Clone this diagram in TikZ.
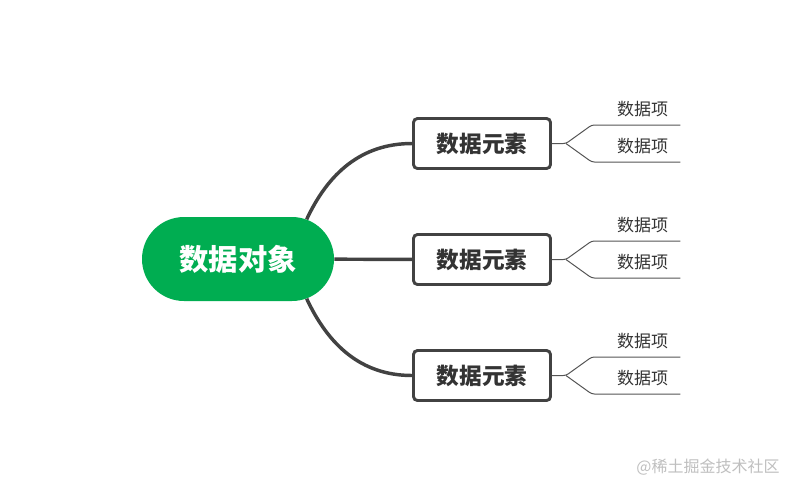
\documentclass[tikz,border=0pt]{standalone}
\usepackage{fontspec}
\newfontfamily\cjk{Noto Sans CJK SC}
\usepackage{tikz}
\usetikzlibrary{shapes.misc,positioning,calc}
\definecolor{objgreen}{RGB}{0,173,81}
\definecolor{linegray}{RGB}{66,66,66}
\definecolor{txtgray}{RGB}{51,51,51}

\begin{document}
\begin{tikzpicture}[x=0.75pt, y=-0.75pt,
  obj/.style={rounded rectangle, fill=objgreen, text=white, minimum width=144pt, minimum height=63pt, inner sep=0pt, font=\cjk\bfseries\fontsize{22}{26}\selectfont},
  elem/.style={rectangle, draw=linegray, line width=2.2pt, rounded corners=3pt, fill=white, text=txtgray, minimum width=102.75pt, minimum height=37.5pt, inner sep=0pt, font=\cjk\bfseries\fontsize{17}{20}\selectfont},
  item/.style={anchor=south, text=txtgray, text width=48pt, align=right, inner xsep=9pt, inner ysep=6pt, font=\cjk\fontsize{12.75}{15}\selectfont},
  link/.style={line width=2.6pt, draw=linegray},
  twig/.style={line width=0.75pt, draw=linegray!90, rounded corners=2pt}
]
\useasboundingbox (0,0) rectangle (789,487);

% Data object
\node[obj] (obj) at (238,259) {数据对象};

% Data elements
\node[elem] (e1) at (482,143.5) {数据元素};
\node[elem] (e2) at (482,259.5) {数据元素};
\node[elem] (e3) at (482,375.5) {数据元素};

% Data items
\node[item] (i11) at (636,125) {数据项};
\node[item] (i12) at (636,162) {数据项};
\node[item] (i21) at (636,241) {数据项};
\node[item] (i22) at (636,278) {数据项};
\node[item] (i31) at (636,357) {数据项};
\node[item] (i32) at (636,394) {数据项};

% Main branches
\draw[link] (obj.30) to[out=65, in=180] (e1.west);
\draw[link] (obj) -- (e2);
\draw[link] (obj.-30) to[out=-65, in=180] (e3.west);

% Item branches
\coordinate (s1) at ($(e1.east)+(14,0)$);
\coordinate (s2) at ($(e2.east)+(14,0)$);
\coordinate (s3) at ($(e3.east)+(14,0)$);
\draw[twig] (e1.east) -- (s1) -- (i11.south west) -- (i11.south east);
\draw[twig] (s1) -- (i12.south west) -- (i12.south east);
\draw[twig] (e2.east) -- (s2) -- (i21.south west) -- (i21.south east);
\draw[twig] (s2) -- (i22.south west) -- (i22.south east);
\draw[twig] (e3.east) -- (s3) -- (i31.south west) -- (i31.south east);
\draw[twig] (s3) -- (i32.south west) -- (i32.south east);

% Watermark
\node[text=black!25, font=\cjk\fontsize{12}{14}\selectfont] (wm) at (708,467) {@稀土掘金技术社区};

\end{tikzpicture}
\end{document}
